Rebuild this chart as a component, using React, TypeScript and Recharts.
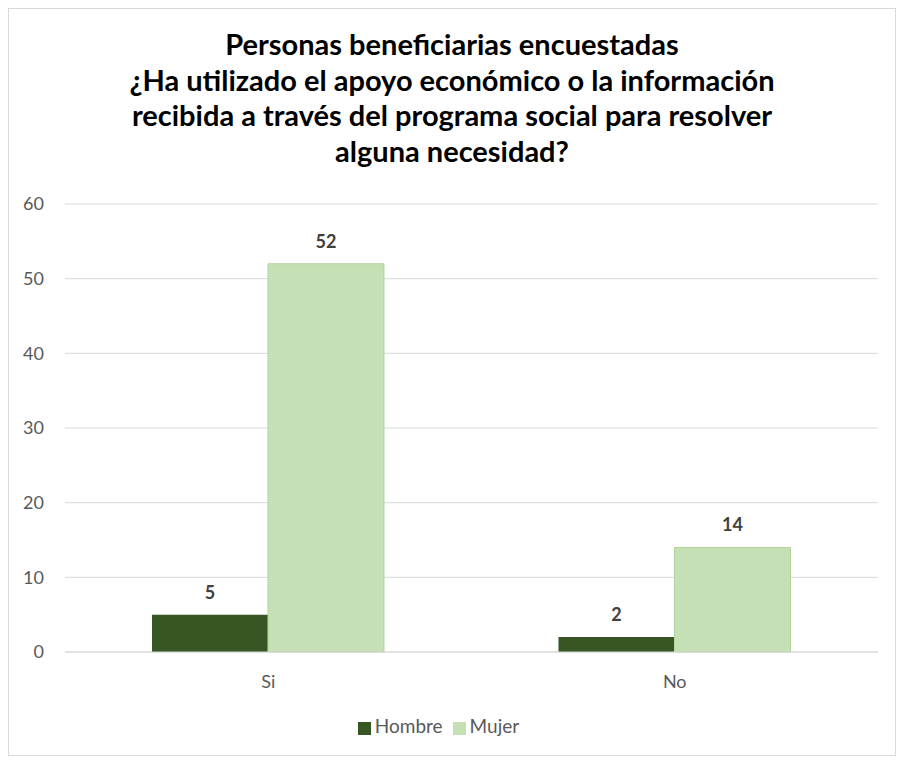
import React from 'react';
import {
  BarChart,
  Bar,
  XAxis,
  YAxis,
  CartesianGrid,
  Legend,
  LabelList,
} from 'recharts';

const categories = ['Si', 'No'];
const hombre = [5, 2];
const mujer = [52, 14];
const yTicks = [0, 10, 20, 30, 40, 50, 60];
const titleLines = [
  'Personas beneficiarias encuestadas',
  '¿Ha utilizado el apoyo económico o la información',
  'recibida a través del programa social para resolver',
  'alguna necesidad?',
];

const data = categories.map((c, i) => ({
  name: c,
  Hombre: hombre[i],
  Mujer: mujer[i],
}));

const FONT = 'Lato, "Open Sans", sans-serif';

const App: React.FC = () => {
  return (
    <div
      style={{
        position: 'relative',
        width: 886,
        height: 746,
        border: '1px solid #d9d9d9',
        fontFamily: FONT,
        background: '#fff',
      }}
    >
      <div
        style={{
          position: 'absolute',
          top: 17,
          left: 0,
          width: 886,
          textAlign: 'center',
          fontSize: 29,
          fontWeight: 700,
          lineHeight: '35.5px',
          color: '#000',
        }}
      >
        {titleLines.map((l) => (
          <div key={l}>{l}</div>
        ))}
      </div>
      <div style={{ position: 'absolute', top: 0, left: 0 }}>
        <BarChart
          width={886}
          height={746}
          data={data}
          margin={{ top: 195, right: 17, left: 0, bottom: 50 }}
          barGap={0}
          barCategoryGap="21.4%"
        >
          <CartesianGrid vertical={false} stroke="#d9d9d9" />
          <XAxis
            dataKey="name"
            axisLine={{ stroke: '#d9d9d9' }}
            tickLine={false}
            tickMargin={17}
            tick={{ fontSize: 18, fill: '#595959', fontFamily: FONT }}
          />
          <YAxis
            domain={[0, 60]}
            ticks={yTicks}
            axisLine={false}
            tickLine={false}
            tickSize={0}
            tickMargin={21}
            width={56}
            tick={{ fontSize: 18, fill: '#595959', fontFamily: FONT }}
          />
          <Legend
            verticalAlign="bottom"
            iconType="square"
            iconSize={13}
            wrapperStyle={{ fontSize: 19, fontFamily: FONT, bottom: 18 }}
            formatter={(v: string) => (
              <span style={{ color: '#595959' }}>{v}</span>
            )}
          />
          <Bar dataKey="Hombre" fill="#375623" isAnimationActive={false}>
            <LabelList
              dataKey="Hombre"
              position="top"
              offset={16}
              style={{ fontSize: 18, fontWeight: 700, fill: '#404040' }}
            />
          </Bar>
          <Bar
            dataKey="Mujer"
            fill="#c5e0b4"
            stroke="#b2d59a"
            isAnimationActive={false}
          >
            <LabelList
              dataKey="Mujer"
              position="top"
              offset={16}
              style={{ fontSize: 18, fontWeight: 700, fill: '#404040' }}
            />
          </Bar>
        </BarChart>
      </div>
    </div>
  );
};

export default App;
